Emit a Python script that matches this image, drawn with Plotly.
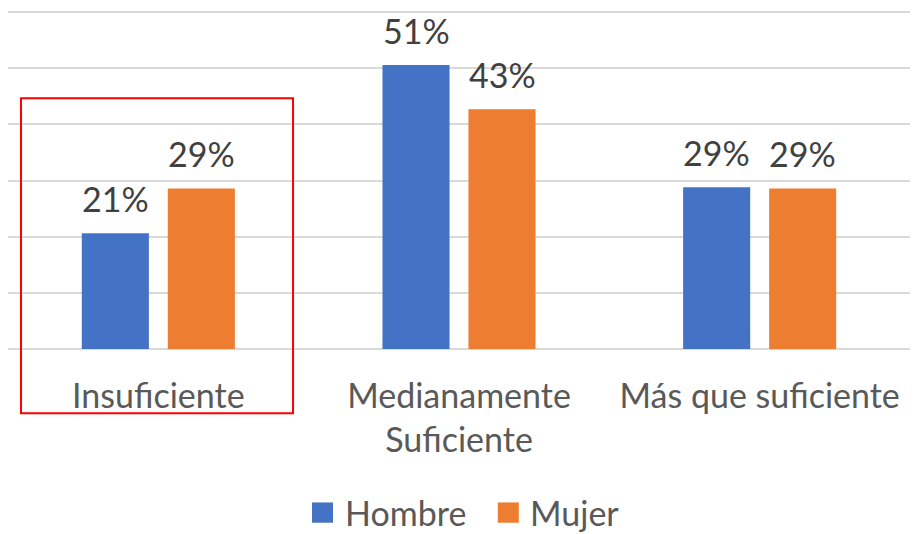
import plotly.graph_objects as go

# Survey results by gender
categories = ["Insuficiente", "Medianamente<br>Suficiente", "Más que suficiente"]
hombre = [0.206, 0.506, 0.288]
mujer = [0.286, 0.427, 0.286]
series_names = ["Hombre", "Mujer"]
colors = ["#4472C4", "#ED7D31"]

FONT = "Lato"
TEXT = "#595959"
fig = go.Figure()
for name, vals, col in zip(series_names, [hombre, mujer], colors):
    fig.add_trace(go.Bar(name=name, x=categories, y=vals, marker_color=col,
                         marker_line_width=0, showlegend=False))

# value labels above each bar, shifted to the bar's place in its group
group_shift = [-43, 43]
for shift, vals in zip(group_shift, [hombre, mujer]):
    for cat, v in zip(categories, vals):
        fig.add_annotation(x=cat, y=v, xref="x", yref="y", text=f"{v:.0%}",
                           showarrow=False, yanchor="bottom", xshift=shift, yshift=12,
                           font=dict(family=FONT, size=34, color="#404040"))

# highlight box around the first category
fig.add_shape(type="rect", xref="paper", yref="paper",
              x0=0.0144, x1=0.316, y0=-0.19, y1=0.742,
              line=dict(color="#FF0000", width=2), fillcolor="rgba(0,0,0,0)")

# legend: square swatch followed by the series name
legend_x = [0.337, 0.543]
for name, col, lx in zip(series_names, colors, legend_x):
    fig.add_shape(type="rect", xref="paper", yref="paper",
                  x0=lx, x1=lx + 0.0233, y0=-0.514, y1=-0.454,
                  line_width=0, fillcolor=col)
    fig.add_annotation(x=lx + 0.034, y=-0.484, xref="paper", yref="paper",
                       text=name, showarrow=False, xanchor="left", yanchor="middle",
                       font=dict(family=FONT, size=34, color=TEXT))

fig.update_layout(
    width=922, height=534,
    margin=dict(l=8, r=12, t=11, b=185, autoexpand=False),
    paper_bgcolor="white", plot_bgcolor="white",
    barmode="group", bargap=0.428, bargroupgap=0.22,
    font=dict(family=FONT, size=34, color=TEXT),
    showlegend=False,
)
fig.update_xaxes(showgrid=False, showline=False, ticks="", ticklabelstandoff=24,
                 automargin=False,
                 tickfont=dict(family=FONT, size=34, color=TEXT))
fig.update_yaxes(range=[0, 0.602], tickvals=[0, 0.1, 0.2, 0.3, 0.4, 0.5, 0.6],
                 showticklabels=False, automargin=False,
                 gridcolor="#D9D9D9", gridwidth=1.5, zeroline=True,
                 zerolinecolor="#D9D9D9", zerolinewidth=1.5, showline=False)

fig.write_html("out.html")
